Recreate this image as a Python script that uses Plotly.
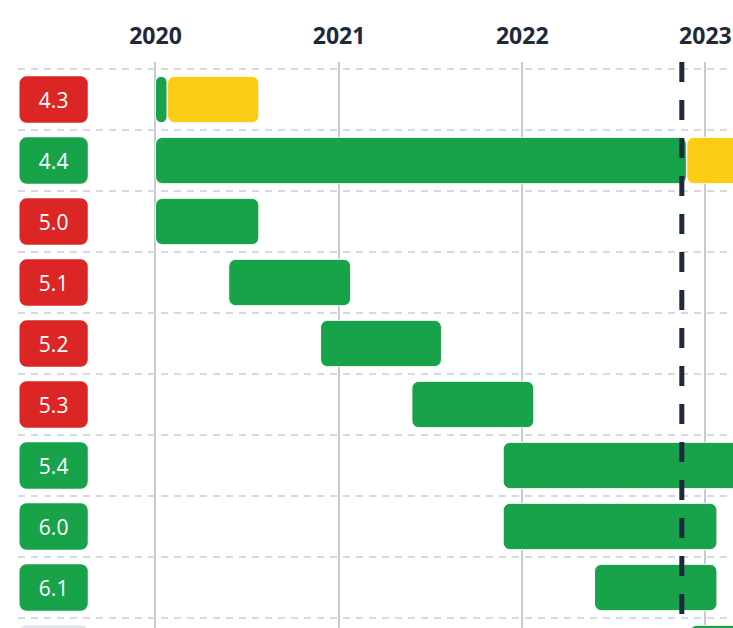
import pandas as pd
import plotly.graph_objects as go

# ---- data ----
versions = ["4.3", "4.4", "5.0", "5.1", "5.2", "5.3", "5.4", "6.0", "6.1", "6.2"]
status = ["eol", "ok", "eol", "eol", "eol", "eol", "ok", "ok", "ok", "future"]

# active support (green) periods
active_version = ["4.3", "4.4", "5.0", "5.1", "5.2", "5.3", "5.4", "6.0", "6.1", "6.2"]
active_start = ["2020-01-01", "2020-01-01", "2020-01-01", "2020-05-26", "2020-11-25",
                "2021-05-26", "2021-11-24", "2021-11-24", "2022-05-25", "2022-12-01"]
active_end = ["2020-01-24", "2022-11-24", "2020-07-25", "2021-01-24", "2021-07-24",
              "2022-01-24", "2024-11-30", "2023-01-24", "2023-01-24", "2023-07-31"]

# security-only (yellow) periods
security_version = ["4.3", "4.4"]
security_start = ["2020-01-25", "2022-11-25"]
security_end = ["2020-07-25", "2023-11-30"]

today = "2022-11-15"
year_ticks = ["2020-01-01", "2021-01-01", "2022-01-01", "2023-01-01"]
year_labels = ["2020", "2021", "2022", "2023"]

# ---- styles ----
GREEN = "#18A34A"
YELLOW = "#FACC15"
RED = "#DC2626"
GRAY = "#E2E5EA"
DARK = "#1E293B"
badge_colors = {"eol": RED, "ok": GREEN, "future": GRAY}
badge_start = "2019-04-05"
badge_end = "2019-08-19"
BAR_W = 0.76

row = {v: i for i, v in enumerate(versions)}


def dur_ms(s, e):
    return [(pd.Timestamp(b) - pd.Timestamp(a)).total_seconds() * 1000 for a, b in zip(s, e)]


fig = go.Figure()

# version badges
fig.add_trace(go.Bar(
    orientation="h",
    y=[row[v] for v in versions],
    base=[badge_start] * len(versions),
    x=dur_ms([badge_start] * len(versions), [badge_end] * len(versions)),
    width=BAR_W,
    marker=dict(color=[badge_colors[s] for s in status], cornerradius=7, line=dict(width=0)),
    text=versions,
    textposition="inside",
    insidetextanchor="middle",
    textangle=0,
    textfont=dict(family="Open Sans", size=21, color="white"),
    hoverinfo="skip",
    showlegend=False,
))

fig.add_trace(go.Bar(
    orientation="h",
    y=[row[v] for v in active_version],
    base=active_start,
    x=dur_ms(active_start, active_end),
    width=BAR_W,
    marker=dict(color=GREEN, cornerradius=7, line=dict(width=1, color="white")),
    hoverinfo="skip",
    showlegend=False,
))

fig.add_trace(go.Bar(
    orientation="h",
    y=[row[v] for v in security_version],
    base=security_start,
    x=dur_ms(security_start, security_end),
    width=BAR_W,
    marker=dict(color=YELLOW, cornerradius=7, line=dict(width=1, color="white")),
    hoverinfo="skip",
    showlegend=False,
))

fig.add_shape(type="line", xref="x", yref="paper", x0=today, x1=today, y0=1, y1=0,
              line=dict(color=DARK, width=5, dash="20px,18px"), layer="above")

fig.update_layout(
    width=733, height=628,
    margin=dict(l=18, r=0, t=62, b=0),
    paper_bgcolor="white", plot_bgcolor="white",
    barmode="overlay",
    xaxis=dict(
        type="date", side="top",
        range=["2019-04-02", "2023-02-25"],
        tickvals=year_ticks, ticktext=year_labels,
        tickfont=dict(family="Open Sans", size=23, color=DARK, weight="bold"),
        ticks="outside", ticklen=8, tickcolor="rgba(0,0,0,0)",
        showgrid=True, gridcolor="#C6CAD3", gridwidth=2,
        zeroline=False, showline=False, fixedrange=True,
    ),
    yaxis=dict(
        range=[8.664, -0.615],
        tickvals=[i - 0.5 for i in range(0, 11)],
        showticklabels=False, ticks="",
        showgrid=True, gridcolor="#D6D9DF", gridwidth=1.5, griddash="7px,6px",
        zeroline=False, showline=False, fixedrange=True,
    ),
)

fig.write_html(
    "out.html",
    config={"displayModeBar": False},
    post_script="document.body.style.margin='0';document.body.style.overflow='hidden';",
)
